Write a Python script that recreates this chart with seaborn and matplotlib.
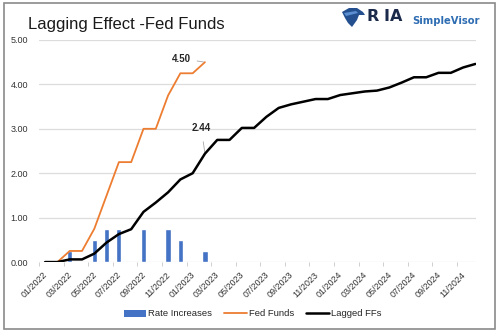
import numpy as np
import pandas as pd
import matplotlib
matplotlib.use("Agg")
import matplotlib.pyplot as plt
import matplotlib.transforms as mtransforms
from matplotlib.patches import Rectangle, Polygon, Patch
from matplotlib.lines import Line2D
import seaborn as sns

# ---- data (monthly, Jan 2022 .. Dec 2024) ----
months = pd.period_range("2022-01", "2024-12", freq="M")
month_labels = [p.strftime("%m/%Y") for p in months]

fed_funds = [0.00, 0.00, 0.25, 0.25, 0.75, 1.50, 2.25, 2.25, 3.00, 3.00,
             3.75, 4.25, 4.25, 4.50]

lagged_ffs = [0.00, 0.00, 0.06, 0.06, 0.19, 0.44, 0.63, 0.74, 1.13, 1.34,
              1.57, 1.86, 2.00, 2.44, 2.75, 2.75, 3.02, 3.02, 3.27, 3.47,
              3.55, 3.61, 3.67, 3.67, 3.76, 3.80, 3.84, 3.86, 3.93, 4.04,
              4.16, 4.16, 4.26, 4.26, 4.38, 4.46]

hike_months = ["2022-03", "2022-05", "2022-06", "2022-07", "2022-09",
               "2022-11", "2022-12", "2023-02"]
hike_sizes = [0.25, 0.50, 0.75, 0.75, 0.75, 0.75, 0.50, 0.25]

# month index -> position at mid-month on a numeric month axis
pos = np.arange(len(months)) + 0.5
idx = {str(p): i for i, p in enumerate(months)}

ff_df = pd.DataFrame({"x": pos[:len(fed_funds)], "y": fed_funds})
lag_df = pd.DataFrame({"x": pos[:len(lagged_ffs)], "y": lagged_ffs})
hike_df = pd.DataFrame({"x": [pos[idx[m]] for m in hike_months], "y": hike_sizes})

BLUE = "#4472C4"
ORANGE = "#ED7D31"

sns.set_theme(style="white")
plt.rcParams["font.family"] = ["Liberation Sans", "DejaVu Sans"]

fig = plt.figure(figsize=(5.0, 3.33), dpi=100)
ax = fig.add_axes([0.078, 0.213, 0.874, 0.667])

sns.barplot(data=hike_df, x="x", y="y", native_scale=True, width=0.42,
            color=BLUE, saturation=1, ax=ax, zorder=2)
sns.lineplot(data=ff_df, x="x", y="y", color=ORANGE, lw=1.3, ax=ax, zorder=3)
sns.lineplot(data=lag_df, x="x", y="y", color="black", lw=1.8, ax=ax, zorder=4)

ax.set_xlim(0.16, 35.55)
ax.set_ylim(0, 5)
ax.set_xlabel("")
ax.set_ylabel("")

# y axis
ax.set_yticks(np.arange(0, 5.01, 1.0))
ax.set_yticklabels([f"{v:.2f}" for v in np.arange(0, 5.01, 1.0)],
                   fontsize=6.5, color="#333333")
ax.yaxis.grid(True, color="#dcdcdc", lw=0.9)
ax.xaxis.grid(False)
ax.tick_params(axis="y", length=0, pad=8)

# x axis: every second month
xt = np.arange(0, 36, 2)
ax.set_xticks(xt)
ax.set_xticklabels([month_labels[i] for i in xt], rotation=45, ha="right",
                   rotation_mode="anchor", fontsize=6.5, color="#333333")
ax.tick_params(axis="x", length=3, width=0.6, color="#c8c8c8", pad=3,
               direction="out", bottom=True)
offset = mtransforms.ScaledTranslation(4 / 100, 0, fig.dpi_scale_trans)
for lab in ax.get_xticklabels():
    lab.set_transform(lab.get_transform() + offset)

for s in ax.spines.values():
    s.set_visible(False)

# value callouts
ax.annotate("4.50", xy=(13.5, 4.50), xytext=(11.6, 4.58), fontsize=7,
            fontweight="bold", ha="center", va="center",
            arrowprops=dict(arrowstyle="-", color="#a6a6a6", lw=0.6,
                            shrinkA=2, shrinkB=1))
ax.annotate("2.44", xy=(13.5, 2.44), xytext=(13.2, 3.02), fontsize=7,
            fontweight="bold", ha="center", va="center",
            arrowprops=dict(arrowstyle="-", color="#a6a6a6", lw=0.6,
                            shrinkA=4, shrinkB=1))

# title
fig.text(0.056, 1 - 24 / 333, "Lagging Effect -Fed Funds", fontsize=12,
         color="#1a1a1a", ha="left", va="center")

# brand mark
W, H = 500, 333
def px(x, y):
    return (x / W, 1 - y / H)

eagle = [(342, 12), (349, 8), (357, 8), (363, 12), (365, 15), (359, 15),
         (357, 20), (352, 27), (348, 23), (345, 18)]
fig.patches.append(Polygon([px(*p) for p in eagle], closed=True,
                           transform=fig.transFigure, facecolor="#24508f",
                           edgecolor="none"))
stripe = [(344, 13), (356, 11), (358, 13), (346, 16)]
fig.patches.append(Polygon([px(*p) for p in stripe], closed=True,
                           transform=fig.transFigure, facecolor="#5b8fd1",
                           edgecolor="none"))
for ch, x0 in zip("RIA", (366, 383.5, 390)):
    fig.text(x0 / W, 1 - 21 / H, ch, fontsize=11.5, fontweight="bold",
             color="#1b2a4a", ha="left", va="baseline",
             family=["DejaVu Sans"])
fig.text(412 / W, 1 - 23.5 / H, "SimpleVisor", fontsize=7.2, fontweight="bold",
         color="#2f6db3", ha="left", va="baseline", family=["DejaVu Sans"])

# legend
handles = [Patch(facecolor=BLUE, edgecolor="none"),
           Line2D([], [], color=ORANGE, lw=1.3),
           Line2D([], [], color="black", lw=1.8)]
fig.legend(handles, ["Rate Increases", "Fed Funds", "Lagged FFs"],
           loc="center", bbox_to_anchor=(0.505, 1 - 314 / 333), ncol=3,
           frameon=False, fontsize=6.8, handlelength=2.4, handletextpad=0.2,
           columnspacing=1.3)

# outer frame
fig.patches.append(Rectangle((4 / W, 1 - 329 / H), 491 / W, 326 / H,
                             transform=fig.transFigure, fill=False,
                             edgecolor="#8a8a8a", lw=1.2))

fig.savefig("out.png", dpi=100, facecolor="white")
